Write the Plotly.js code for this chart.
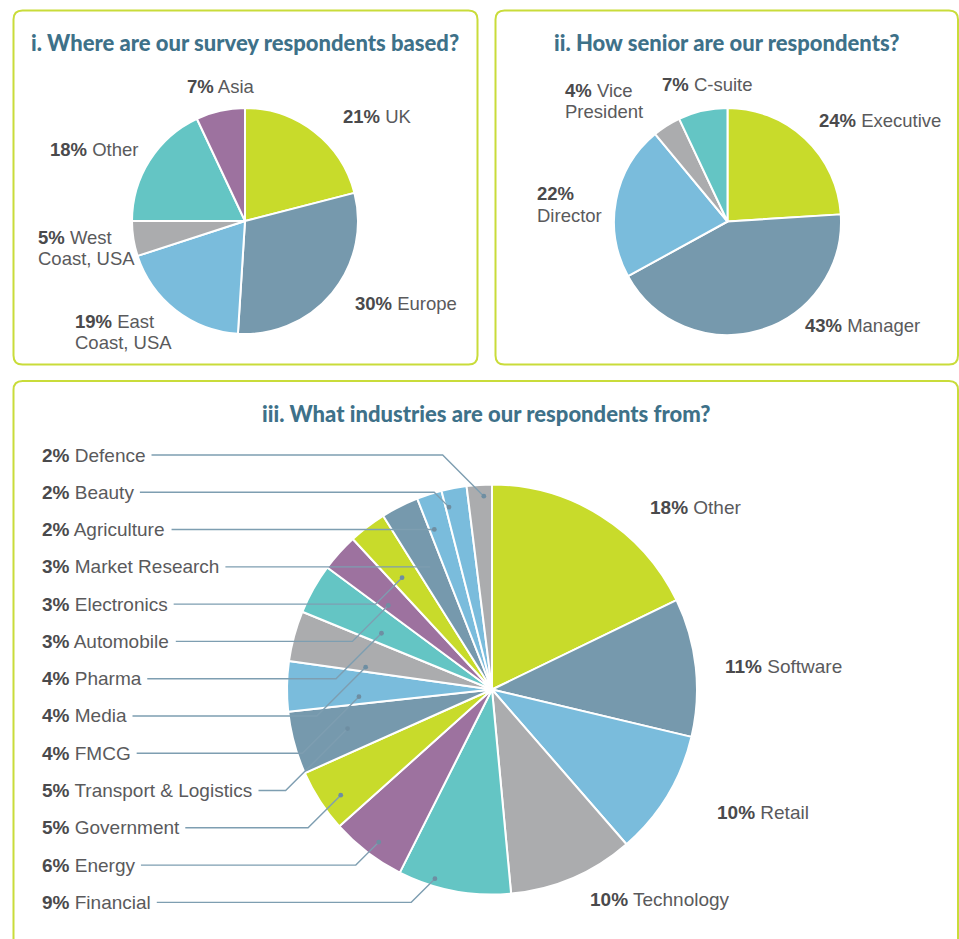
<!DOCTYPE html>
<html>
<head>
<meta charset="utf-8">
<script src="https://cdn.plot.ly/plotly-3.0.1.min.js"></script>
<style>
html,body{margin:0;padding:0;background:#fff;}
#chart{width:959px;height:939px;}
</style>
</head>
<body>
<div id="chart"></div>
<script>
// ---------------- DATA ----------------
const basedLabels = ['UK', 'Europe', 'East Coast, USA', 'West Coast, USA', 'Other', 'Asia'];
const basedValues = [21, 30, 19, 5, 18, 7];

const seniorLabels = ['Executive', 'Manager', 'Director', 'Vice President', 'C-suite'];
const seniorValues = [24, 43, 22, 4, 7];

const industryLabels = ['Other', 'Software', 'Retail', 'Technology', 'Financial', 'Energy',
  'Government', 'Transport & Logistics', 'FMCG', 'Media', 'Pharma', 'Automobile',
  'Electronics', 'Market Research', 'Agriculture', 'Beauty', 'Defence'];
const industryValues = [18, 11, 10, 10, 9, 6, 5, 5, 4, 4, 4, 3, 3, 3, 2, 2, 2];

const titles = ['i. Where are our survey respondents based?',
  'ii. How senior are our respondents?',
  'iii. What industries are our respondents from?'];

// ---------------- STYLE / LAYOUT CONFIG ----------------
const W = 959, H = 939;
const LIME = '#C8DB2B', SLATE = '#7699AD', LBLUE = '#7ABCDC', GREY = '#ABACAE', TEAL = '#64C5C4', PURPLE = '#9D729F';
const basedColors = [LIME, SLATE, LBLUE, GREY, TEAL, PURPLE];
const seniorColors = [LIME, SLATE, LBLUE, GREY, TEAL];
const industryColors = [LIME, SLATE, LBLUE, GREY, TEAL, PURPLE, LIME, SLATE, LBLUE, GREY, TEAL, PURPLE,
  LIME, SLATE, LBLUE, LBLUE, GREY];

const FONT = '"Liberation Sans", Arial, sans-serif';
const LFS = 18.5;           // label font size
const TXT = '#5A5A5C', BOLD = '#4A4A4C';
const TITLE_COLOR = '#3E7189';
const BORDER = '#C9DC3A';
const LEADER = '#7E9EB1';

// display text for labels (line breaks), and positions [left x, first-line y]
const basedText = ['UK', 'Europe', 'East|Coast, USA', 'West|Coast, USA', 'Other', 'Asia'];
const basedPos = [[341, 117], [353, 303], [73, 321], [36, 237], [48, 149], [185, 86]];
const seniorText = ['Executive', 'Manager', '|Director', 'Vice|President', 'C-suite'];
const seniorPos = [[817, 121], [803, 325], [535, 194], [563, 90], [660, 84]];
// right-side labels of the industry chart (first four slices)
const industryRightPos = [[648, 507], [723, 666], [715, 812], [588, 899]];
// leader anchors for left list: [fraction within slice, radius fraction] (top to bottom)
const leaderAnchor = [[0.66, 0.944], [0.14, 0.914], [0.22, 0.83], [0.5, null], [0.37, 0.70],
  [0.23, 0.651], [0.33, 0.605], [0.14, 0.626], [0.22, 0.65], [0.5, 0.73], [0.39, 0.90],
  [0.46, 0.927], [0.69, 0.964]];

const PIES = [
  {cx: 245, cy: 221, r: 113},
  {cx: 727.5, cy: 221.5, r: 113.5},
  {cx: 492, cy: 689.5, r: 205}
];

// ---------------- HELPERS ----------------
const X = v => v / W;
const Y = v => 1 - v / H;
function dom(p) {
  return {x: [X(p.cx - p.r), X(p.cx + p.r)], y: [Y(p.cy + p.r), Y(p.cy - p.r)]};
}
const ctx = document.createElement('canvas').getContext('2d');
function textWidth(pct, name, size) {
  ctx.font = 'bold ' + size + 'px "Liberation Sans"';
  let w = ctx.measureText(pct).width;
  ctx.font = size + 'px "Liberation Sans"';
  w += ctx.measureText(' ' + name).width;
  return w;
}
function pctOf(v) { return v + '%'; }

const annotations = [];
const shapes = [];

function addLabel(x, y, pct, text, size) {
  const lines = text.split('|');
  lines.forEach((ln, k) => {
    let t = '';
    if (k === 0) t = '<b style="color:' + BOLD + '">' + pct + '</b>' + (ln ? ' ' + ln : '');
    else t = ln;
    annotations.push({
      xref: 'paper', yref: 'paper', x: X(x), y: Y(y + k * 21.5),
      xanchor: 'left', yanchor: 'middle', showarrow: false, align: 'left',
      text: t, font: {family: FONT, size: size, color: TXT}
    });
  });
}

function roundRect(x0, y0, x1, y1, rad) {
  const p = (x, y) => X(x) + ',' + Y(y);
  return 'M' + p(x0 + rad, y0) + ' L' + p(x1 - rad, y0) + ' Q' + p(x1, y0) + ' ' + p(x1, y0 + rad) +
    ' L' + p(x1, y1 - rad) + ' Q' + p(x1, y1) + ' ' + p(x1 - rad, y1) +
    ' L' + p(x0 + rad, y1) + ' Q' + p(x0, y1) + ' ' + p(x0, y1 - rad) +
    ' L' + p(x0, y0 + rad) + ' Q' + p(x0, y0) + ' ' + p(x0 + rad, y0) + ' Z';
}

// panel borders
[[13.5, 10.5, 477.5, 364.5], [495.5, 10.5, 958, 364.5], [13.5, 381, 958, 960]].forEach(b => {
  shapes.push({type: 'path', xref: 'paper', yref: 'paper', path: roundRect(b[0], b[1], b[2], b[3], 9),
    line: {color: BORDER, width: 2}, fillcolor: 'rgba(0,0,0,0)', layer: 'below'});
});

// titles
[[245, 43], [726.5, 43], [486, 414]].forEach((t, i) => {
  annotations.push({xref: 'paper', yref: 'paper', x: X(t[0]), y: Y(t[1]), xanchor: 'center', yanchor: 'middle',
    showarrow: false, text: titles[i],
    font: {family: 'Lato, "Liberation Sans", sans-serif', size: 22, weight: 900, color: TITLE_COLOR}});
});

// labels panel 1 & 2
basedValues.forEach((v, i) => addLabel(basedPos[i][0], basedPos[i][1], pctOf(v), basedText[i], LFS));
seniorValues.forEach((v, i) => addLabel(seniorPos[i][0], seniorPos[i][1], pctOf(v), seniorText[i], LFS));

// industry labels
const total3 = industryValues.reduce((a, b) => a + b, 0);
const cum = [];
industryValues.reduce((a, v, i) => { cum[i] = a; return a + v; }, 0);
for (let i = 0; i < 4; i++) {
  addLabel(industryRightPos[i][0], industryRightPos[i][1], pctOf(industryValues[i]), industryLabels[i], 19);
}
const P3 = PIES[2];
const leftIdx = [];
for (let i = industryValues.length - 1; i >= 4; i--) leftIdx.push(i);
leftIdx.forEach((idx, row) => {
  const ly = 455 + 37.28 * row;
  const lx = 40;
  const pct = pctOf(industryValues[idx]);
  addLabel(lx, ly, pct, industryLabels[idx], 19);
  const startX = lx + 2 + textWidth(pct, industryLabels[idx], 19) + 6;
  const a = leaderAnchor[row];
  const ang = (cum[idx] + a[0] * industryValues[idx]) / total3 * 2 * Math.PI;
  let rr;
  if (a[1] === null) rr = (P3.cy - ly) / Math.cos(ang);
  else rr = a[1] * P3.r;
  const dx = P3.cx + rr * Math.sin(ang);
  const dy = P3.cy - rr * Math.cos(ang);
  const bx = dx - Math.abs(dy - ly);
  shapes.push({type: 'path', xref: 'paper', yref: 'paper',
    path: 'M' + X(startX) + ',' + Y(ly) + ' L' + X(bx) + ',' + Y(ly) + ' L' + X(dx) + ',' + Y(dy),
    line: {color: LEADER, width: 1.4}, layer: 'above'});
  if (a[1] !== null) {
    const rd = 2.4;
    shapes.push({type: 'circle', xref: 'paper', yref: 'paper',
      x0: X(dx - rd), x1: X(dx + rd), y0: Y(dy + rd), y1: Y(dy - rd),
      fillcolor: '#6E8EA2', line: {width: 0}, layer: 'above'});
  }
});

function pie(labels, values, colors, p) {
  return {type: 'pie', labels: labels, values: values, sort: false, direction: 'clockwise', rotation: 0,
    marker: {colors: colors, line: {color: '#ffffff', width: 2}}, textinfo: 'none',
    hoverinfo: 'label+value', domain: dom(p), showlegend: false};
}

const data = [
  pie(basedLabels, basedValues, basedColors, PIES[0]),
  pie(seniorLabels, seniorValues, seniorColors, PIES[1]),
  pie(industryLabels, industryValues, industryColors, PIES[2])
];

const layout = {
  width: W, height: H, margin: {l: 0, r: 0, t: 0, b: 0},
  paper_bgcolor: '#ffffff', plot_bgcolor: '#ffffff', showlegend: false,
  annotations: annotations, shapes: shapes
};

Plotly.newPlot('chart', data, layout, {displayModeBar: false, staticPlot: true});
</script>
</body>
</html>
